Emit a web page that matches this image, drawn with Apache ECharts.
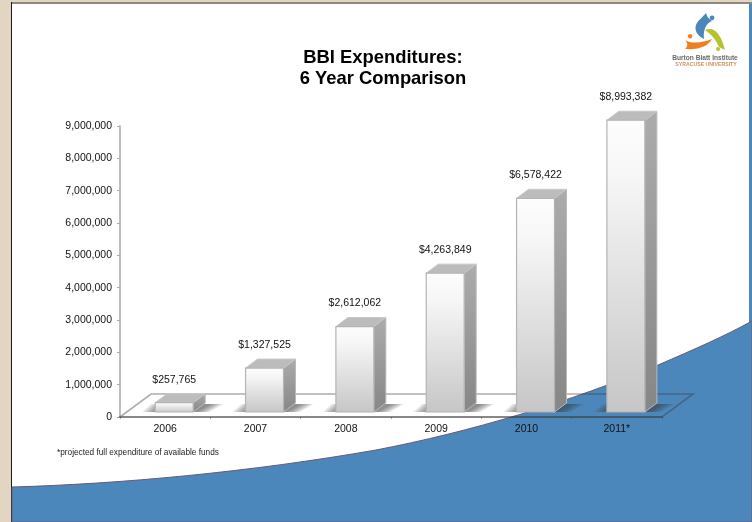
<!DOCTYPE html>
<html><head><meta charset="utf-8">
<style>html,body{margin:0;padding:0;background:#fff}#c{width:752px;height:522px}</style>
<script src="https://cdn.jsdelivr.net/npm/echarts@6/dist/echarts.min.js"></script>
</head><body><div id="c"></div>
<script>
const categories = ['2006','2007','2008','2009','2010','2011*'];
const expenditures = [257765,1327525,2612062,4263849,6578422,8993382];
const barLabels = ['$257,765','$1,327,525','$2,612,062','$4,263,849','$6,578,422','$8,993,382'];
const titleLines = 'BBI Expenditures:\n6 Year Comparison';
const footnote = '*projected full expenditure of available funds';

const FONT = '"Liberation Sans", Arial, sans-serif';
const DX = 12, DY = 9;          // bar 3-D depth
const FLOOR_DX = 31, FLOOR_DY = 23;
const BLUE = '#4c87bb';
const FLOOR_LINE = 'rgba(60,60,60,.42)';

const chart = echarts.init(document.getElementById('c'), null, {renderer:'canvas'});

function poly(points, style, z2){
  return {type:'polygon', shape:{points}, style, z2: z2||0, silent:true};
}
function softShadow(x0, x1, base){
  const layers = [];
  for (let k = 5; k >= 0; k--) {
    const g = k*2.4;
    layers.push(poly([[x0-1-g,base],[x1+4+g,base],[x1+DX+6+g,base-DY+1],[x0+8-g,base-DY+1]],
      {fill:'rgba(60,60,60,.13)'},0));
  }
  return layers;
}
function renderBar(params, api){
  const i = api.value(0), top = api.coord([i, api.value(1)]), zero = api.coord([i, 0]);
  const band = api.size([1,0])[0];
  const w = band*0.42, cx = zero[0] + band*0.1;
  const x0 = cx-w/2, x1 = cx+w/2, base = zero[1]-5, y = top[1]-6;
  const ln = {x:0,y:0,x2:0,y2:1};
  const frontFill = {type:'linear',...ln,colorStops:[{offset:0,color:'#fdfdfd'},{offset:0.2,color:'#f6f6f6'},{offset:1,color:'#c6c6c6'}]};
  const sideFill = {type:'linear',...ln,colorStops:[{offset:0,color:'#acacac'},{offset:1,color:'#868686'}]};
  const edge = '#b4b4b4';
  return {type:'group', children:[
    ...softShadow(x0, x1, base),
    poly([[x1,y],[x1+DX,y-DY],[x1+DX,base-DY],[x1,base]],{fill:sideFill,stroke:'#b8b8b8',lineWidth:1},1),
    poly([[x0,y],[x1,y],[x1+DX,y-DY],[x0+DX,y-DY]],{fill:'#bcbcbc',stroke:'#c8c8c8',lineWidth:1},2),
    {type:'rect',shape:{x:x0,y:y,width:w,height:base-y},style:{fill:frontFill,stroke:edge,lineWidth:1.2},z2:3,silent:true},
    {type:'text',style:{text:barLabels[i],x:cx,y:y-DY-14,align:'center',verticalAlign:'middle',
      font:'10.5px '+FONT,fill:'#111'},z2:4,silent:true}
  ]};
}
function renderFloor(params){
  const g = params.coordSys, l = g.x, r = g.x+g.width, b = g.y+g.height;
  return {type:'polygon',silent:true,shape:{points:[[l,b],[l+FLOOR_DX,b-FLOOR_DY],[r+FLOOR_DX,b-FLOOR_DY],[r,b]]},
    style:{fill:'rgba(0,0,0,0)',stroke:FLOOR_LINE,lineWidth:1.6}};
}
const wave = 'M12 487 C120 484 250 472 376 450 C470 432 570 402 658 365 C695 349 725 336 752 321 L752 522 L12 522 Z';
const logo = [
  {d:'M706 13 C707 17 709 19 712 21 C706 23 703 30 704 39 C698 36 694 31 696 25 C698 20 703 17 706 13 Z',c:'#4c87bb'},
  {d:'M712 15.5 a2.4 2.4 0 1 0 .1 0 Z',c:'#4c87bb'},
  {d:'M705 30 C712 27 720 30 725 50 L719 47 C716 40 712 35 705 30 Z',c:'#b4c32e'},
  {d:'M718 47 a2 2 0 1 0 .1 0 Z',c:'#b4c32e'},
  {d:'M685 40 C692 44 702 43 712 39 C708 46 700 50 685 49 C688 46 688 43 685 40 Z',c:'#ee8023'},
  {d:'M690 34 a2.2 2.2 0 1 0 .1 0 Z',c:'#ee8023'}
];
function pathEl(d, style, z2){
  return {type:'path',silent:true,z2:z2||0,shape:{pathData:d},style};
}
function renderBackdrop(){
  return {type:'group',children:[
    {type:'rect',silent:true,shape:{x:0,y:0,width:752,height:522},style:{fill:'#e2d5c1'},z2:0},
    {type:'rect',silent:true,shape:{x:11,y:2,width:741,height:520},style:{fill:'#1d1a16'},z2:1},
    {type:'rect',silent:true,shape:{x:12,y:2,width:740,height:2},style:{fill:'#8c8980'},z2:2},
    {type:'rect',silent:true,shape:{x:12,y:4,width:737,height:518},style:{fill:'#ffffff'},z2:2},
    {type:'rect',silent:true,shape:{x:749,y:4,width:3,height:518},style:{fill:BLUE},z2:2},
    pathEl(wave,{fill:BLUE,stroke:'#6b5a72',lineWidth:1},3),
    ...logo.map(p=>pathEl(p.d,{fill:p.c},4)),
    {type:'text',silent:true,z2:4,style:{text:'Burton Blatt Institute',x:705,y:58,align:'center',verticalAlign:'middle',font:'bold 6.6px '+FONT,fill:'#6a6a6a'}},
    {type:'text',silent:true,z2:4,style:{text:'SYRACUSE UNIVERSITY',x:706,y:65,align:'center',verticalAlign:'middle',font:'bold 5.2px '+FONT,fill:'#c9925f'}}
  ]};
}
chart.setOption({
  animation:false,
  backgroundColor:'#fff',
  title:[
    {text:titleLines,left:378,top:42,textAlign:'center',
     textStyle:{fontFamily:FONT,fontSize:18.4,fontWeight:'bold',color:'#000',lineHeight:21}},
    {text:footnote,left:52,top:444,textStyle:{fontFamily:FONT,fontSize:8.25,fontWeight:'normal',color:'#222'}}
  ],
  grid:{left:120,right:90,top:126,bottom:105,containLabel:false},
  xAxis:{type:'category',data:categories,
    axisLine:{lineStyle:{color:FLOOR_LINE,width:2}},
    axisTick:{show:true,alignWithLabel:false,length:2,lineStyle:{color:FLOOR_LINE}},
    axisLabel:{fontFamily:FONT,fontSize:10.5,color:'#111',margin:7},splitLine:{show:false}},
  yAxis:{type:'value',min:0,max:9000000,interval:1000000,
    axisLine:{show:true,lineStyle:{color:'#aaaaaa',width:1.5}},
    axisTick:{show:true,length:3,lineStyle:{color:'#aaaaaa'}},
    axisLabel:{fontFamily:FONT,fontSize:10.5,color:'#111',margin:8,
      formatter:v=>v.toLocaleString('en-US')},
    splitLine:{show:false}},
  series:[
    {type:'custom',name:'backdrop',z:-5,silent:true,data:[[0]],renderItem:renderBackdrop,clip:false,encode:{x:0}},
    {type:'custom',name:'floor',z:1,silent:true,data:[[0]],renderItem:renderFloor,clip:false,encode:{x:0}},
    {type:'custom',name:'BBI Expenditures',z:3,silent:true,clip:false,
     data:expenditures.map((v,i)=>[i,v]),renderItem:renderBar,encode:{x:0,y:1}}
  ]
});
</script></body></html>
